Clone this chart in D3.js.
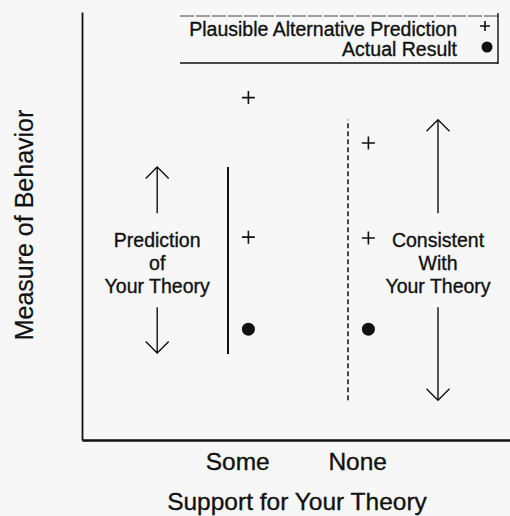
<!DOCTYPE html>
<html>
<head>
<meta charset="utf-8">
<script src="https://cdn.jsdelivr.net/npm/d3@7"></script>
<style>
  body{margin:0;background:#f7f7f7;}
  svg{display:block;font-family:"Liberation Sans",Arial,sans-serif;}
  text{stroke:#111;stroke-width:0.35px;}
</style>
</head>
<body>
<svg id="chart" width="510" height="516"></svg>
<script>
// categories on the x axis and where they sit
var categories = ["Some","None"];
var catPos = [1.94, 3.44];

// measure of behavior, 0..10
var altSome = [8.0, 4.74];     // plausible alternative predictions (+)
var altNone = [6.94, 4.72];
var actual = [2.59, 2.59];     // actual result (dot), Some / None
var spanSome = [2.01, 6.38];   // solid bar beside "Some"
var spanNone = [0.93, 7.48];   // dashed bar beside "None"

// the two big arrows: [bottom, gapLow, gapHigh, top]
var predArrow = [2.03, 3.1, 5.3, 6.38];
var consArrow = [0.93, 3.1, 5.3, 7.48];
var predPos = 0.94, consPos = 4.45;

var predText = ["Prediction","of","Your Theory"];
var consText = ["Consistent","With","Your Theory"];
var legendText = ["Plausible Alternative Prediction","Actual Result"];

var svg = d3.select("#chart");
var ink = "#111";

var x = d3.scaleLinear().domain([0,5.35]).range([82,510]);
var y = d3.scaleLinear().domain([0,10]).range([440,12]);

// axes: no ticks, only the lines and the two category labels
var xAxis = svg.append("g")
  .attr("transform","translate(0,440)")
  .call(d3.axisBottom(x)
    .tickValues(catPos)
    .tickFormat(function(d,i){return categories[i];})
    .tickSize(0)
    .tickSizeOuter(0)
    .tickPadding(13));
xAxis.select(".domain").attr("stroke",ink).attr("stroke-width",2.5);
xAxis.selectAll("text")
  .attr("font-size",24.5)
  .attr("font-family","Liberation Sans, Arial, sans-serif")
  .attr("fill",ink);

var yAxis = svg.append("g")
  .attr("transform","translate(82,0)")
  .call(d3.axisLeft(y).tickValues([]).tickSizeOuter(0));
yAxis.select(".domain").attr("stroke",ink).attr("stroke-width",1.8);

svg.append("text")
  .attr("x",297)
  .attr("y",510)
  .attr("text-anchor","middle")
  .attr("font-size",24.5)
  .attr("fill",ink)
  .text("Support for Your Theory");

svg.append("text")
  .attr("transform","translate(33,225) rotate(-90)")
  .attr("text-anchor","middle")
  .attr("font-size",25)
  .attr("fill",ink)
  .style("stroke-width","0.2px")
  .text("Measure of Behavior");

// bars beside each column
svg.append("line")
  .attr("x1",x(catPos[0]-0.115)).attr("x2",x(catPos[0]-0.115))
  .attr("y1",y(spanSome[0])).attr("y2",y(spanSome[1]))
  .attr("stroke",ink).attr("stroke-width",2);

svg.append("line")
  .attr("x1",x(catPos[1]-0.115)).attr("x2",x(catPos[1]-0.115))
  .attr("y1",y(spanNone[0])).attr("y2",y(spanNone[1]))
  .attr("stroke",ink).attr("stroke-width",1.5)
  .attr("stroke-dasharray","5,3");

// markers
function plus(g,cx,cy,s){
  g.append("path")
    .attr("d","M"+(cx-s)+","+cy+"H"+(cx+s)+"M"+cx+","+(cy-s)+"V"+(cy+s))
    .attr("stroke",ink)
    .attr("stroke-width",1.6)
    .attr("fill","none");
}

var marks = svg.append("g").attr("class","marks");
altSome.forEach(function(v){plus(marks,x(catPos[0]+0.14),y(v),6.5);});
altNone.forEach(function(v){plus(marks,x(catPos[1]+0.14),y(v),6.5);});

marks.selectAll("circle")
  .data(actual)
  .enter()
  .append("circle")
  .attr("cx",function(d,i){return x(catPos[i]+0.14);})
  .attr("cy",function(d){return y(d);})
  .attr("r",6.5)
  .attr("fill",ink);

// big arrows with labels in the gap
function bigArrow(pos,a,lines){
  var cx = x(pos);
  var g = svg.append("g");
  var top = y(a[3]), bot = y(a[0]);
  g.append("path")
    .attr("d","M"+cx+","+top+"V"+y(a[2])+"M"+cx+","+y(a[1])+"V"+bot
      +"M"+(cx-11.5)+","+(top+11.5)+"L"+cx+","+top+"L"+(cx+11.5)+","+(top+11.5)
      +"M"+(cx-11.5)+","+(bot-11.5)+"L"+cx+","+bot+"L"+(cx+11.5)+","+(bot-11.5))
    .attr("stroke",ink)
    .attr("stroke-width",1.4)
    .attr("fill","none");
  g.selectAll("text")
    .data(lines)
    .enter()
    .append("text")
    .attr("x",cx)
    .attr("y",function(d,i){return 247+i*23;})
    .attr("text-anchor","middle")
    .attr("font-size",19.5)
    .attr("fill",ink)
    .text(function(d){return d;});
}
bigArrow(predPos,predArrow,predText);
bigArrow(consPos,consArrow,consText);

// legend
var lg = svg.append("g").attr("class","legend");
lg.append("path")
  .attr("d","M180,16H498")
  .attr("stroke","#444")
  .attr("stroke-width",1)
  .attr("stroke-dasharray","14,2");
lg.append("path")
  .attr("d","M498,13V64M180,63H498")
  .attr("stroke",ink)
  .attr("stroke-width",1.4)
  .attr("fill","none");
lg.selectAll("text")
  .data(legendText)
  .enter()
  .append("text")
  .attr("x",457)
  .attr("y",function(d,i){return 36+i*20;})
  .attr("text-anchor","end")
  .attr("font-size",19.5)
  .attr("fill",ink)
  .text(function(d){return d;});
plus(lg,485,26,5);
lg.append("circle").attr("cx",487).attr("cy",47).attr("r",5.5).attr("fill",ink);
</script>
</body>
</html>
